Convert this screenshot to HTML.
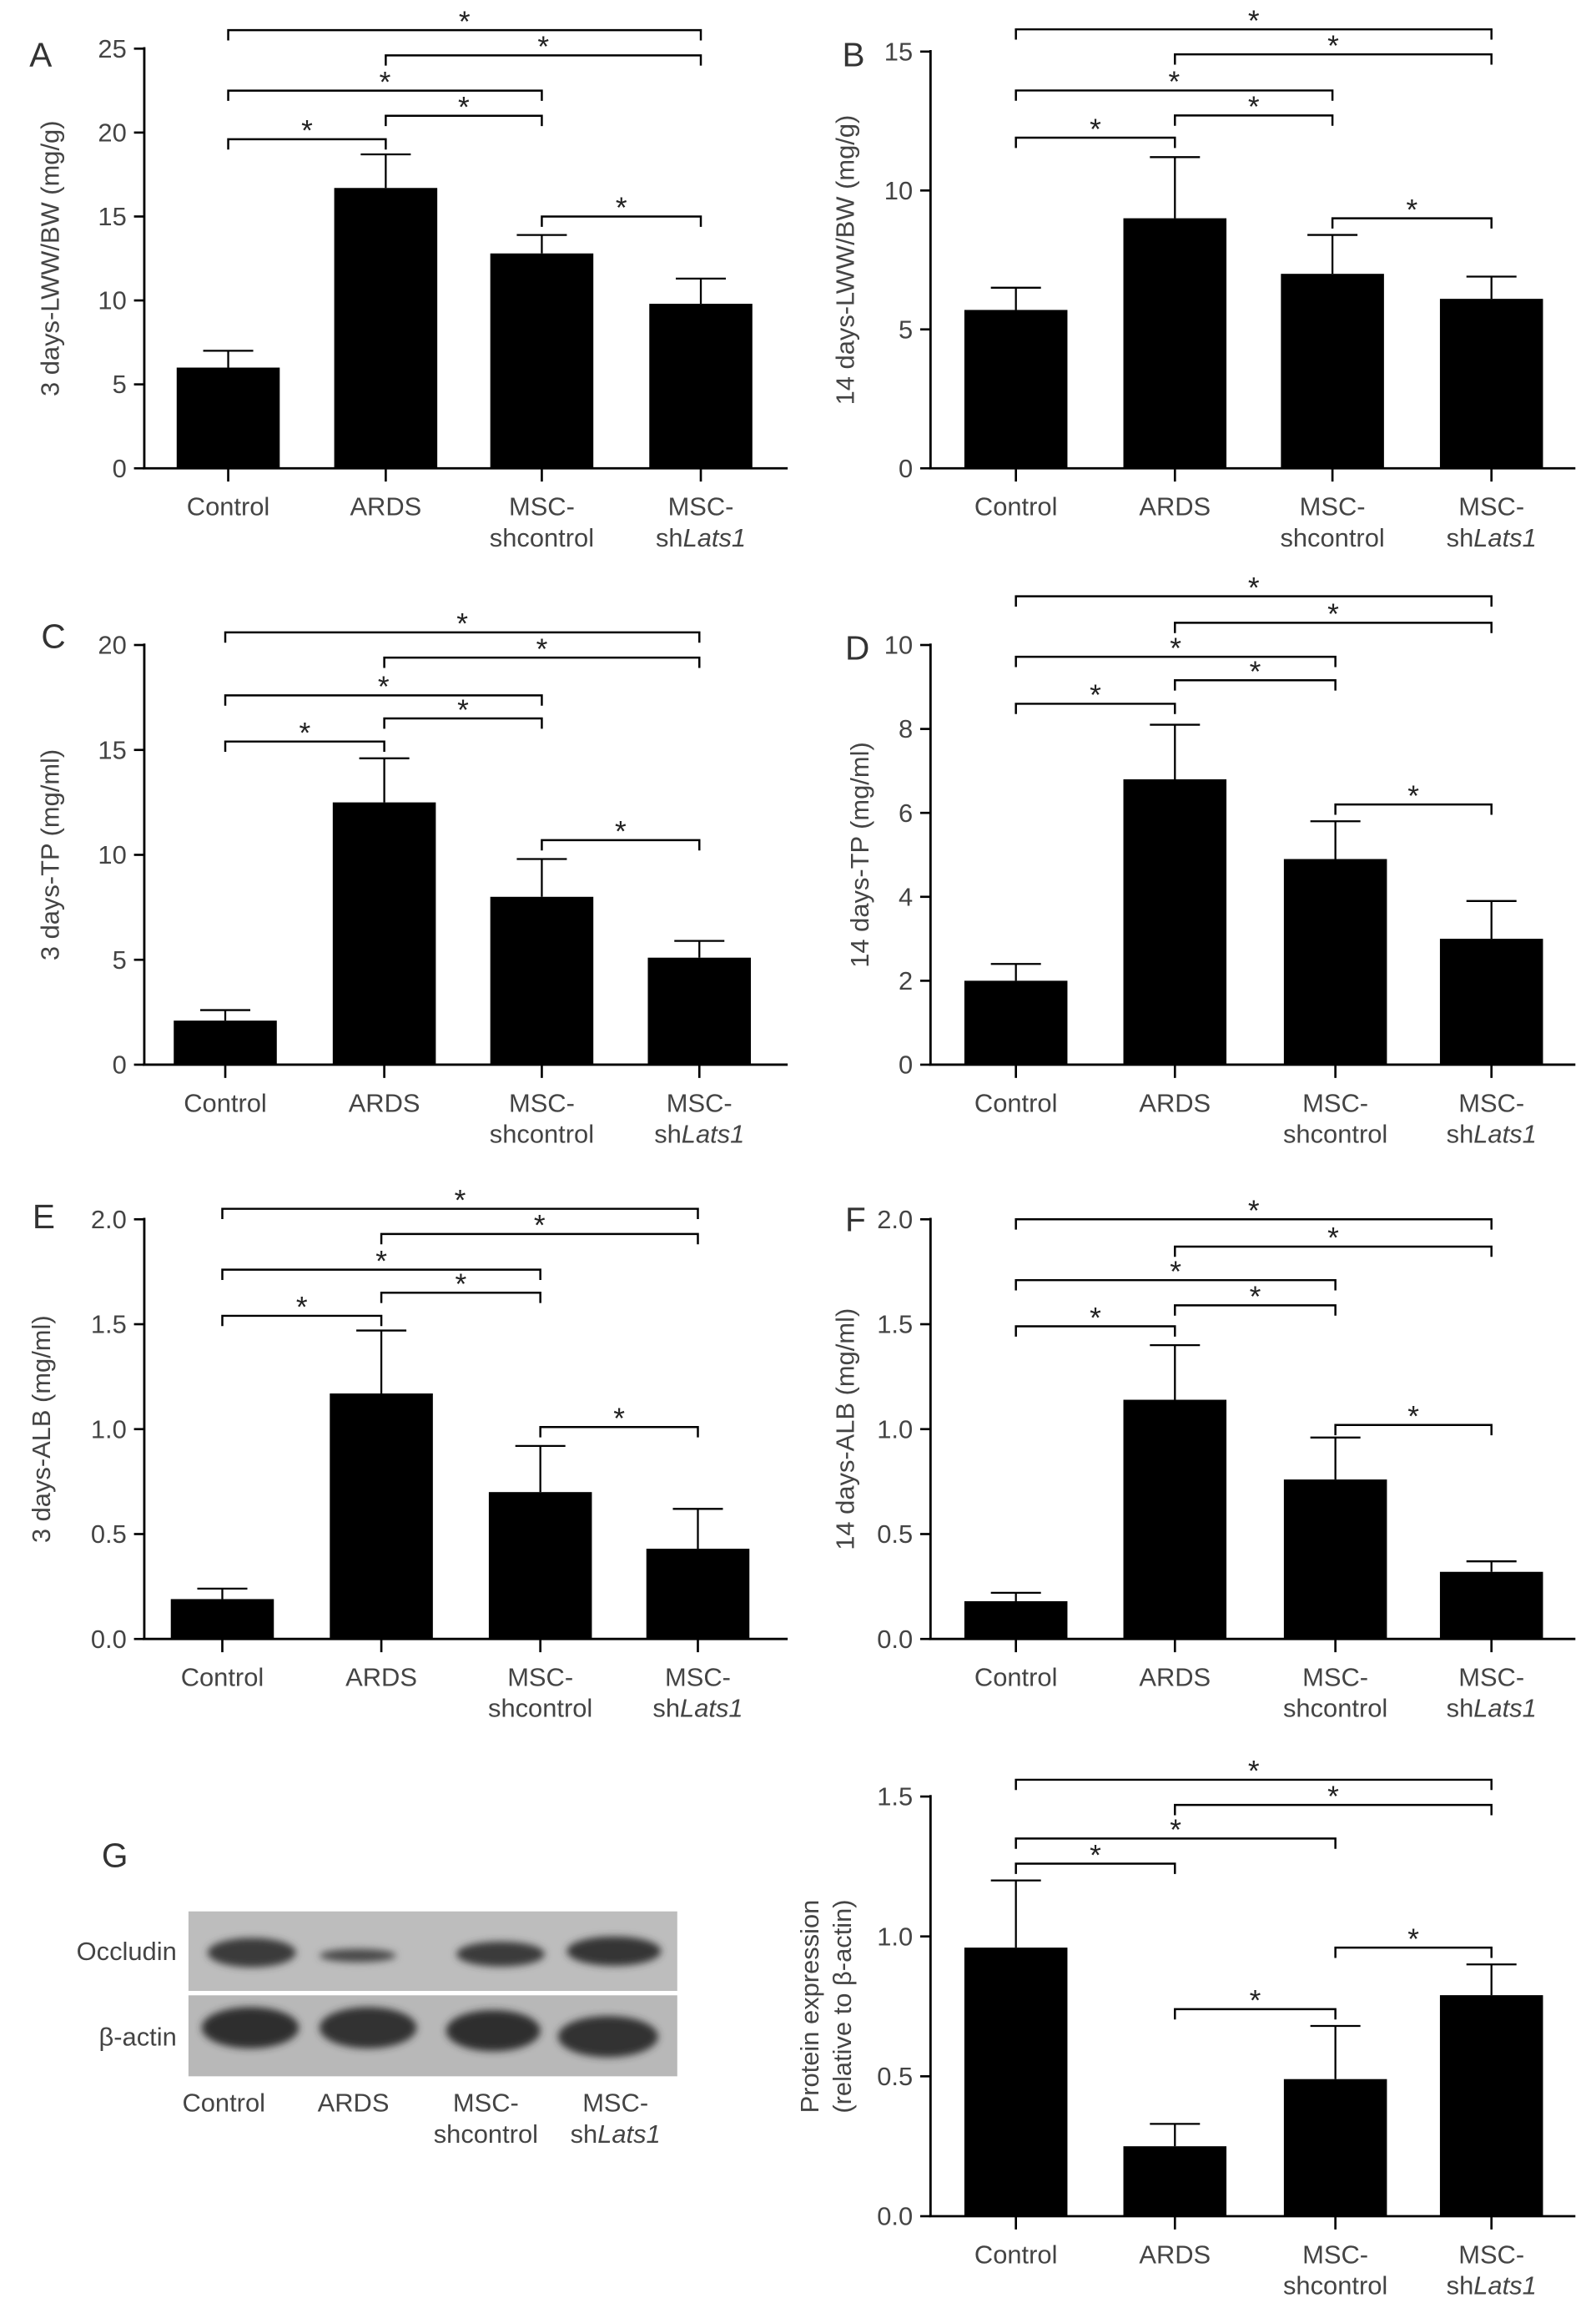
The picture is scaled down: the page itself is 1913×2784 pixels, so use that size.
<!DOCTYPE html>
<html><head><meta charset="utf-8">
<style>
html,body{margin:0;padding:0;background:#fff;}
svg{display:block;}
text{font-family:"Liberation Sans",sans-serif;}
</style></head>
<body>
<svg id="fig" xmlns="http://www.w3.org/2000/svg" width="1913" height="2784" viewBox="0 0 1084 1577.5">
<defs><filter id="blur"><feGaussianBlur stdDeviation="2.5"/></filter></defs>
<rect width="1084" height="1577.5" fill="#fff"/>
<g id="blot">
  <rect x="128" y="1298" width="332" height="54" fill="#bdbdbd"/>
  <rect x="128" y="1355" width="332" height="55" fill="#b8b8b8"/>
  <g filter="url(#blur)">
  <ellipse cx="171" cy="1326" rx="30" ry="10" fill="#3a3a3a"/>
  <ellipse cx="243" cy="1328" rx="26" ry="4.5" fill="#4a4a4a"/>
  <ellipse cx="340" cy="1327" rx="30" ry="8.5" fill="#3a3a3a"/>
  <ellipse cx="417" cy="1325" rx="32" ry="10" fill="#363636"/>
  <ellipse cx="170" cy="1377" rx="33" ry="14" fill="#2e2e2e"/>
  <ellipse cx="250" cy="1377" rx="33" ry="14" fill="#303030"/>
  <ellipse cx="335" cy="1379" rx="32" ry="14" fill="#2e2e2e"/>
  <ellipse cx="413" cy="1383" rx="34" ry="14" fill="#303030"/>
  </g>
  <text x="120" y="1331" text-anchor="end" font-size="17.5" fill="#444">Occludin</text>
  <text x="120" y="1389" text-anchor="end" font-size="17.5" fill="#444">β-actin</text>
  <text x="152" y="1434" text-anchor="middle" font-size="17.5" fill="#444">Control</text>
  <text x="240" y="1434" text-anchor="middle" font-size="17.5" fill="#444">ARDS</text>
  <text x="330" y="1434" text-anchor="middle" font-size="17.5" fill="#444"><tspan x="330">MSC-</tspan><tspan x="330" dy="21">shcontrol</tspan></text>
  <text x="418" y="1434" text-anchor="middle" font-size="17.5" fill="#444"><tspan x="418">MSC-</tspan><tspan x="418" dy="21">sh<tspan font-style="italic">Lats1</tspan></tspan></text>
  <text x="78" y="1268" text-anchor="middle" font-size="23" fill="#333">G</text>
</g>
</svg>
<script>
const categories = ["Control","ARDS","MSC-shcontrol","MSC-shLats1"];
const aValues=[6.0,16.7,12.8,9.8]; const aErr=[7.0,18.7,13.9,11.3]; const aTicks=[0,5,10,15,20,25];
const bValues=[5.7,9.0,7.0,6.1]; const bErr=[6.5,11.2,8.4,6.9]; const bTicks=[0,5,10,15];
const cValues=[2.1,12.5,8.0,5.1]; const cErr=[2.6,14.6,9.8,5.9]; const cTicks=[0,5,10,15,20];
const dValues=[2.0,6.8,4.9,3.0]; const dErr=[2.4,8.1,5.8,3.9]; const dTicks=[0,2,4,6,8,10];
const eValues=[0.19,1.17,0.70,0.43]; const eErr=[0.24,1.47,0.92,0.62]; const eTicks=["0.0","0.5","1.0","1.5","2.0"];
const fValues=[0.18,1.14,0.76,0.32]; const fErr=[0.22,1.40,0.96,0.37]; const fTicks=["0.0","0.5","1.0","1.5","2.0"];
const gValues=[0.96,0.25,0.49,0.79]; const gErr=[1.20,0.33,0.68,0.90]; const gTicks=["0.0","0.5","1.0","1.5"];
const aBrackets=[[0,3,26.1],[1,3,24.6],[0,2,22.5],[1,2,21.0],[0,1,19.6],[2,3,15.0]];
const bBrackets=[[0,3,15.8],[1,3,14.9],[0,2,13.6],[1,2,12.7],[0,1,11.9],[2,3,9.0]];
const cBrackets=[[0,3,20.6],[1,3,19.4],[0,2,17.6],[1,2,16.5],[0,1,15.4],[2,3,10.7]];
const dBrackets=[[0,3,11.16],[1,3,10.53],[0,2,9.72],[1,2,9.16],[0,1,8.6],[2,3,6.2]];
const eBrackets=[[0,3,2.05],[1,3,1.93],[0,2,1.76],[1,2,1.65],[0,1,1.54],[2,3,1.01]];
const fBrackets=[[0,3,2.0],[1,3,1.87],[0,2,1.71],[1,2,1.59],[0,1,1.49],[2,3,1.02]];
const gBrackets=[[0,3,1.56],[1,3,1.47],[0,2,1.35],[0,1,1.26],[2,3,0.96],[1,2,0.74]];

const NS="http://www.w3.org/2000/svg";
const svg=document.getElementById('fig');
function mk(tag,attrs,parent){const e=document.createElementNS(NS,tag);for(const k in attrs)e.setAttribute(k,attrs[k]);parent.appendChild(e);return e;}

const panels=[
 {id:'a',letter:'A',lx:20,ly:45,ax:98,y0:318,ymaxPx:33,cx:[155,262,368,476],xEnd:535,title:['3 days-LWW/BW (mg/g)'],tx:40,vals:aValues,err:aErr,ticks:aTicks,br:aBrackets},
 {id:'b',letter:'B',lx:572,ly:45,ax:632,y0:318,ymaxPx:35,cx:[690,798,905,1013],xEnd:1070,title:['14 days-LWW/BW (mg/g)'],tx:580,vals:bValues,err:bErr,ticks:bTicks,br:bBrackets},
 {id:'c',letter:'C',lx:28,ly:440,ax:98,y0:723,ymaxPx:438,cx:[153,261,368,475],xEnd:535,title:['3 days-TP (mg/ml)'],tx:40,vals:cValues,err:cErr,ticks:cTicks,br:cBrackets},
 {id:'d',letter:'D',lx:574,ly:448,ax:632,y0:723,ymaxPx:438,cx:[690,798,907,1013],xEnd:1070,title:['14 days-TP (mg/ml)'],tx:590,vals:dValues,err:dErr,ticks:dTicks,br:dBrackets},
 {id:'e',letter:'E',lx:22,ly:834,ax:98,y0:1113,ymaxPx:828,cx:[151,259,367,474],xEnd:535,title:['3 days-ALB (mg/ml)'],tx:34,vals:eValues,err:eErr,ticks:eTicks,br:eBrackets},
 {id:'f',letter:'F',lx:574,ly:836,ax:632,y0:1113,ymaxPx:828,cx:[690,798,907,1013],xEnd:1070,title:['14 days-ALB (mg/ml)'],tx:580,vals:fValues,err:fErr,ticks:fTicks,br:fBrackets},
 {id:'g',letter:null,ax:632,y0:1505,ymaxPx:1220,cx:[690,798,907,1013],xEnd:1070,title:['Protein expression','(relative to β-actin)'],tx:556,vals:gValues,err:gErr,ticks:gTicks,br:gBrackets}
];

panels.forEach(p=>{
  const g=mk('g',{},svg);
  
  
  const tmax=parseFloat(p.ticks[p.ticks.length-1]);
  const ys=v=>p.y0-(v/tmax)*(p.y0-p.ymaxPx);
  p.vals.forEach((v,i)=>{
    const x=p.cx[i];
    const el=mk('line',{x1:x,x2:x,y1:ys(v),y2:ys(p.err[i]),stroke:'#000','stroke-width':1.3},g);
    
    
    const cap=mk('line',{x1:x-17,x2:x+17,y1:ys(p.err[i]),y2:ys(p.err[i]),stroke:'#000','stroke-width':1.3},g);
    
    
    const r=mk('rect',{x:x-35,y:ys(v),width:70,height:p.y0-ys(v),fill:'#000'},g);
    
    
  });
  const ya=mk('line',{x1:p.ax,x2:p.ax,y1:ys(tmax)-1,y2:p.y0,stroke:'#000','stroke-width':1.6},g);
  
  
  const xa=mk('line',{x1:p.ax-1,x2:p.xEnd,y1:p.y0,y2:p.y0,stroke:'#000','stroke-width':1.6},g);
  
  
  p.ticks.forEach(t=>{
    const y=ys(parseFloat(t));
    mk('line',{x1:p.ax-7,x2:p.ax,y1:y,y2:y,stroke:'#000','stroke-width':1.5},g);
    const tl=mk('text',{x:p.ax-12,y:y+6,'text-anchor':'end','font-size':17.5,fill:'#444'},g);
    tl.textContent=String(t);
    
    
  });
  p.cx.forEach((x,i)=>{
    mk('line',{x1:x,x2:x,y1:p.y0,y2:p.y0+9,stroke:'#000','stroke-width':1.5},g);
    const t=mk('text',{x:x,y:p.y0+32,'text-anchor':'middle','font-size':17.5,fill:'#444'},g);
    
    
    if(i<2){t.textContent=categories[i];}
    else{
      const s1=mk('tspan',{x:x},t); s1.textContent='MSC-';
      const s2=mk('tspan',{x:x,dy:21},t);
      if(i===2){s2.textContent='shcontrol';}
      else{s2.textContent='sh';const it=mk('tspan',{'font-style':'italic'},s2);it.textContent='Lats1';}
    }
  });
  const midY=(p.y0+ys(tmax))/2;
  p.title.forEach((line,k)=>{
    const tx=p.tx+k*22;
    const t=mk('text',{x:tx,y:midY,'text-anchor':'middle','font-size':17.5,fill:'#444',transform:`rotate(-90 ${tx} ${midY})`},g);
    t.textContent=line;
    
    
  });
  if(p.letter){
    const L=mk('text',{x:p.lx,y:p.ly,'font-size':23,fill:'#333'},g);
    L.textContent=p.letter;
    
    
  }
  p.br.forEach(b=>{
    const y=ys(b[2]);const x1=p.cx[b[0]],x2=p.cx[b[1]];
    const pl=mk('polyline',{points:`${x1},${y+7} ${x1},${y} ${x2},${y} ${x2},${y+7}`,fill:'none',stroke:'#000','stroke-width':1.4},g);
    
    
    const s=mk('text',{x:(x1+x2)/2,y:y+1,'text-anchor':'middle','font-size':20,fill:'#222'},g);
    s.textContent='*';
    
    
  });
});
</script>
</body></html>
